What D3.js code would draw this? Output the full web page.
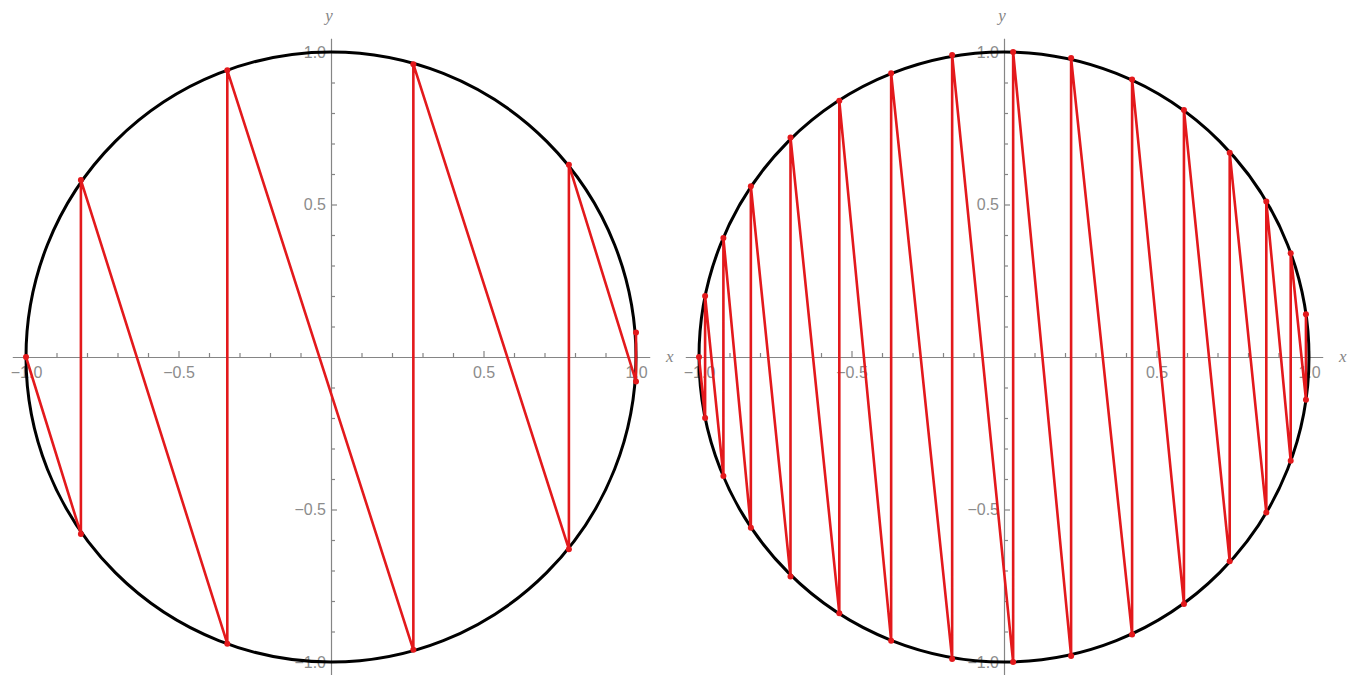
<!DOCTYPE html>
<html>
<head>
<meta charset="utf-8">
<script src="https://cdn.jsdelivr.net/npm/d3@7"></script>
<style>
  body { margin: 0; background: #fff; }
  .tick text { font-family: "Liberation Sans", Arial, sans-serif; font-size: 16px; fill: #8c8c8c; }
</style>
</head>
<body>
<svg id="chart" width="1361" height="675"></svg>
<script>
// points along the red path (x, y pairs)
const leftX = [-1.0, -0.82, -0.82, -0.34, -0.34, 0.27, 0.27, 0.78, 0.78, 1.0, 1.0];
const leftY = [0.0, -0.58, 0.58, -0.94, 0.94, -0.96, 0.96, -0.63, 0.63, -0.08, 0.08];

const rightX = [-1.0, -0.98, -0.98, -0.92, -0.92, -0.83, -0.83, -0.7, -0.7, -0.54, -0.54,
  -0.37, -0.37, -0.17, -0.17, 0.03, 0.03, 0.22, 0.22, 0.42, 0.42, 0.59, 0.59,
  0.74, 0.74, 0.86, 0.86, 0.94, 0.94, 0.99, 0.99];
const rightY = [0.0, -0.2, 0.2, -0.39, 0.39, -0.56, 0.56, -0.72, 0.72, -0.84, 0.84,
  -0.93, 0.93, -0.99, 0.99, -1.0, 1.0, -0.98, 0.98, -0.91, 0.91, -0.81, 0.81,
  -0.67, 0.67, -0.51, 0.51, -0.34, 0.34, -0.14, 0.14];

const majorTicks = [-1.0, -0.5, 0.5, 1.0];
const minorTicks = [-0.9, -0.8, -0.7, -0.6, -0.4, -0.3, -0.2, -0.1, 0.1, 0.2, 0.3, 0.4, 0.6, 0.7, 0.8, 0.9];
const axisExtent = [-1.045, 1.045];

const svg = d3.select("#chart");
const red = "#e3191c";
const axisGrey = "#858585";

const drawPanel = (cx, xs, ys) => {
  const x = d3.scaleLinear().domain([-1, 1]).range([cx - 305, cx + 305]);
  const y = d3.scaleLinear().domain([-1, 1]).range([662, 52]);
  const xa = x.copy().domain(axisExtent).range(axisExtent.map(x));
  const ya = y.copy().domain(axisExtent).range(axisExtent.map(y));

  const g = svg.append("g");

  // x axis, ticks point up, labels below
  const gx = g.append("g").attr("transform", `translate(0,${y(0)})`);
  gx.call(d3.axisBottom(xa).tickValues(majorTicks).tickSizeInner(-6).tickSizeOuter(0)
    .tickPadding(10).tickFormat(d3.format(".1f")));
  gx.append("g").call(d3.axisBottom(xa).tickValues(minorTicks).tickSizeInner(-4)
    .tickSizeOuter(0).tickFormat("")).select(".domain").remove();

  // y axis, ticks point right, labels left
  const gy = g.append("g").attr("transform", `translate(${x(0)},0)`);
  gy.call(d3.axisLeft(ya).tickValues(majorTicks).tickSizeInner(-6).tickSizeOuter(0)
    .tickPadding(5).tickFormat(d3.format(".1f")));
  gy.append("g").call(d3.axisLeft(ya).tickValues(minorTicks).tickSizeInner(-4)
    .tickSizeOuter(0).tickFormat("")).select(".domain").remove();

  g.selectAll(".domain, .tick line").attr("stroke", axisGrey).attr("stroke-width", 1.2);

  g.append("text").attr("x", xa(axisExtent[1]) + 20).attr("y", y(0) + 5)
    .attr("text-anchor", "middle").attr("fill", axisGrey)
    .style("font", "italic 17px 'Liberation Serif', serif").text("x");
  g.append("text").attr("x", x(0) - 2).attr("y", ya(axisExtent[1]) - 17)
    .attr("text-anchor", "middle").attr("fill", axisGrey)
    .style("font", "italic 17px 'Liberation Serif', serif").text("y");

  // unit circle
  g.append("ellipse")
    .attr("cx", x(0)).attr("cy", y(0))
    .attr("rx", x(1) - x(0)).attr("ry", y(-1) - y(0))
    .attr("fill", "none").attr("stroke", "#000").attr("stroke-width", 3);

  const pts = xs.map((d, i) => [d, ys[i]]);
  const line = d3.line().x((d) => x(d[0])).y((d) => y(d[1]));

  g.append("path").datum(pts).attr("d", line)
    .attr("fill", "none").attr("stroke", red).attr("stroke-width", 2.6)
    .attr("stroke-linejoin", "round");

  g.selectAll(".pt").data(pts).enter().append("circle").attr("class", "pt")
    .attr("cx", (d) => x(d[0])).attr("cy", (d) => y(d[1]))
    .attr("r", 3).attr("fill", red);
};

drawPanel(331, leftX, leftY);
drawPanel(1004, rightX, rightY);
</script>
</body>
</html>
